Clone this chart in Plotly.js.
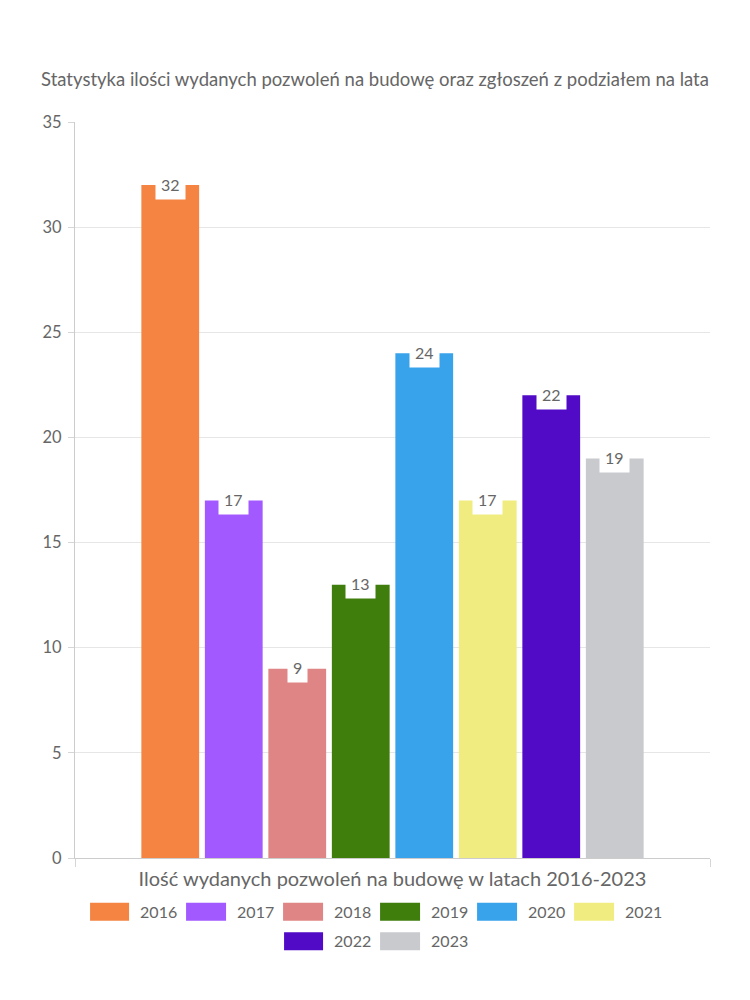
<!DOCTYPE html>
<html>
<head>
<meta charset="utf-8">
<script src="https://cdn.plot.ly/plotly-3.0.1.min.js"></script>
<style>html,body{margin:0;padding:0;background:#fff;}#chart{width:750px;height:1000px;}</style>
</head>
<body>
<div id="chart"></div>
<script>
const category = ["Ilość wydanych pozwoleń na budowę w latach 2016-2023"];
const years = ["2016", "2017", "2018", "2019", "2020", "2021", "2022", "2023"];
const values = [32, 17, 9, 13, 24, 17, 22, 19];
const colors = ["#F58442", "#A259FF", "#E08585", "#3F7D0D", "#38A3EB", "#F1EC7F", "#510AC5", "#C9CACE"];
const legendRow = ["legend", "legend", "legend", "legend", "legend", "legend", "legend2", "legend2"];
const yTicks = [0, 5, 10, 15, 20, 25, 30, 35];

const FONT = "Lato, 'Noto Sans', sans-serif";
const GREY = "#666666";
const bargap = 0.20;

const traces = years.map((y, i) => ({
  type: "bar",
  name: y,
  x: category,
  y: [values[i]],
  legend: legendRow[i],
  marker: {color: colors[i], line: {width: 0}},
  hoverinfo: "none"
}));

const n = years.length;
const slot = (1 - bargap) / n;
const annotations = values.map((v, i) => ({
  xref: "x", yref: "y",
  x: (i - (n - 1) / 2) * slot,
  y: v,
  text: String(v),
  showarrow: false,
  yanchor: "middle",
  yshift: 1,
  bgcolor: "#ffffff",
  borderpad: 5,
  font: {family: FONT, size: 16, color: GREY}
}));

const legendBase = {
  orientation: "h", x: 0.482, xanchor: "center", yanchor: "top",
  font: {family: FONT, size: 16, color: GREY},
  itemwidth: 40, entrywidth: 42, traceorder: "normal", bgcolor: "rgba(0,0,0,0)"
};

const layout = {
  width: 750, height: 1000,
  paper_bgcolor: "#ffffff", plot_bgcolor: "#ffffff",
  margin: {l: 75, r: 40, t: 122, b: 142, autoexpand: false},
  font: {family: FONT, color: GREY},
  title: {
    text: "Statystyka ilości wydanych pozwoleń na budowę oraz zgłoszeń z podziałem na lata",
    font: {family: FONT, size: 18.5, color: GREY},
    x: 0.5, xanchor: "center", y: 0.92, yanchor: "middle", yref: "container"
  },
  barmode: "group",
  bargap: bargap,
  bargroupgap: 0.09,
  showlegend: true,
  legend: Object.assign({}, legendBase, {y: -0.05}),
  legend2: Object.assign({}, legendBase, {y: -0.09}),
  xaxis: {
    type: "category",
    range: [-0.5, 0.5],
    showgrid: true, gridcolor: "#e3e3e3",
    tickson: "boundaries", ticks: "outside", ticklen: 8, tickcolor: "#d6d6d6",
    showline: true, linecolor: "#cccccc",
    showticklabels: false,
    title: {text: category[0], font: {family: FONT, size: 20, color: GREY}, standoff: 13},
    fixedrange: true
  },
  yaxis: {
    range: [0, 35],
    tickvals: yTicks,
    showgrid: true, gridcolor: "#e6e6e6",
    ticks: "outside", ticklen: 6, tickcolor: "#d6d6d6",
    showline: true, linecolor: "#cccccc",
    zeroline: false,
    tickfont: {family: FONT, size: 16.5, color: GREY},
    ticklabelstandoff: 3,
    fixedrange: true
  },
  annotations: annotations
};

Plotly.newPlot("chart", traces, layout, {displayModeBar: false, staticPlot: true}).then(gd => {
  gd.querySelectorAll(".legendpoints path").forEach(p => {
    p.setAttribute("d", "M14,9H-26V-9H14Z");
  });
});
</script>
</body>
</html>
